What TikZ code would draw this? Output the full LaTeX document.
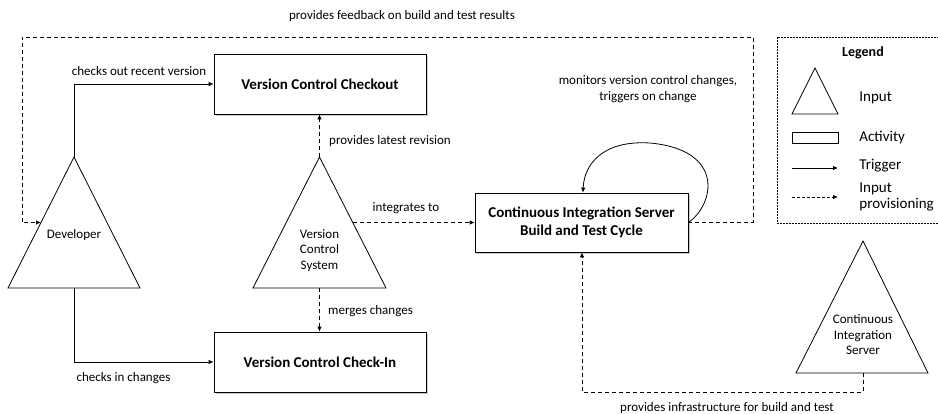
\documentclass[tikz,border=0pt]{standalone}
\usepackage{fontspec}
\setmainfont{Carlito}
\usetikzlibrary{arrows.meta,shadows,calc}
\begin{document}
\begin{tikzpicture}[x=1pt,y=-1pt,
  line width=0.8pt,
  >={Latex[length=5pt,width=4.5pt]},
  activity/.style={draw, fill=white, minimum width=212pt, minimum height=60pt,
    drop shadow={shadow xshift=2pt,shadow yshift=-2pt,opacity=0.4},
    font=\bfseries\fontsize{15}{18}\selectfont, align=center, inner sep=0pt},
  lbl/.style={font=\fontsize{13}{15.5}\selectfont, inner sep=0pt, align=center},
  leg/.style={font=\fontsize{15}{16}\selectfont, inner sep=0pt, anchor=west, align=left},
  trig/.style={->},
  prov/.style={->, dash pattern=on 4pt off 3pt},
  input/.style={draw, fill=white},
]
\useasboundingbox (0,0) rectangle (938,413);

% activity boxes
\node[activity] (checkout) at (320,84) {Version Control Checkout};
\node[activity] (checkin) at (320,362) {Version Control Check-In};
\node[activity, minimum width=213pt, minimum height=59pt] (ci) at (581.5,222.5)
  {Continuous Integration Server\\Build and Test Cycle};

% input triangles
\coordinate (dev-apex) at (74,157);
\coordinate (dev-bl) at (8,288);
\coordinate (dev-br) at (140,288);
\coordinate (dev-base) at (74,288);
\draw[input] (dev-apex) -- (dev-br) -- (dev-bl) -- cycle;
\node[lbl] (dev) at (74,235) {Developer};

\coordinate (vcs-apex) at (319.5,157);
\coordinate (vcs-bl) at (253,288);
\coordinate (vcs-br) at (386,288);
\coordinate (vcs-base) at (319.5,288);
\draw[input] (vcs-apex) -- (vcs-br) -- (vcs-bl) -- cycle;
\node[lbl] (vcs) at (319.5,250.5) {Version\\Control\\System};

\coordinate (cis-apex) at (863,241);
\coordinate (cis-bl) at (796,373);
\coordinate (cis-br) at (928,373);
\coordinate (cis-base) at (863,373);
\draw[input] (cis-apex) -- (cis-br) -- (cis-bl) -- cycle;
\node[lbl] (cis) at (863,335) {Continuous\\Integration\\Server};

% points on the triangle sides
\coordinate (dev-in) at ($(dev-apex)!0.5!(dev-bl)$);
\coordinate (vcs-out) at ($(vcs-apex)!0.5!(vcs-br)$);

% triggers from the developer
\draw[trig] (dev-apex) |- (checkout.west);
\node[lbl] (l-out) at (139,71) {checks out recent version};
\draw[trig] (dev-base) |- (checkin.west);
\node[lbl] (l-in) at (123.5,378) {checks in changes};

% provisioning from the version control system
\draw[prov] (vcs-apex) -- (vcs-apex |- checkout.south);
\node[lbl] (l-rev) at (390,141) {provides latest revision};
\draw[prov] (vcs-base) -- (vcs-base |- checkin.north);
\node[lbl] (l-merge) at (370.5,311) {merges changes};
\draw[prov] (vcs-out) -- (vcs-out -| ci.west);
\node[lbl] (l-int) at (406,208) {integrates to};

% feedback loop to the developer
\coordinate (fb-r) at (753,37);
\coordinate (fb-l) at (22,37);
\draw[prov] (ci.east) -| (fb-r) -- (fb-l) |- (dev-in);
\node[lbl] (l-fb) at (402,16) {provides feedback on build and test results};

% self-triggering on version control changes
\draw[trig] (ci.east) .. controls (714,205) and (726,150) .. (650,143)
  .. controls (602,140) and (584,165) .. (ci.north -| 583,0);
\node[lbl] (l-mon) at (648,89) {monitors version control changes,\\triggers on change};

% infrastructure provisioning
\coordinate (infra) at (582,392);
\draw[prov] (cis-base) -- (cis-base |- infra) -- (infra) -- (infra |- ci.south);
\node[lbl] (l-infra) at (727,408) {provides infrastructure for build and test};

% legend
\draw[dash pattern=on 2pt off 1pt, line width=0.7pt] (777,37) rectangle (945,223);
\node[font=\bfseries\fontsize{14}{16}\selectfont, inner sep=0pt] (leg-title) at (863,53) {Legend};
\draw[input] (815,68) -- (838,114) -- (792,114) -- cycle;
\node[leg] (leg-input) at (859,98) {Input};
\draw[fill=white] (792,132) rectangle (838,143);
\node[leg] (leg-act) at (859,138) {Activity};
\coordinate (leg-t1) at (792,168);
\coordinate (leg-t2) at (838,168);
\draw[trig] (leg-t1) -- (leg-t2);
\node[leg] (leg-trig) at (859,166) {Trigger};
\coordinate (leg-p1) at (792,197);
\coordinate (leg-p2) at (838,197);
\draw[prov, dash pattern=on 3pt off 2pt] (leg-p1) -- (leg-p2);
\node[leg] (leg-prov) at (859,197) {Input\\provisioning};
\end{tikzpicture}
\end{document}
